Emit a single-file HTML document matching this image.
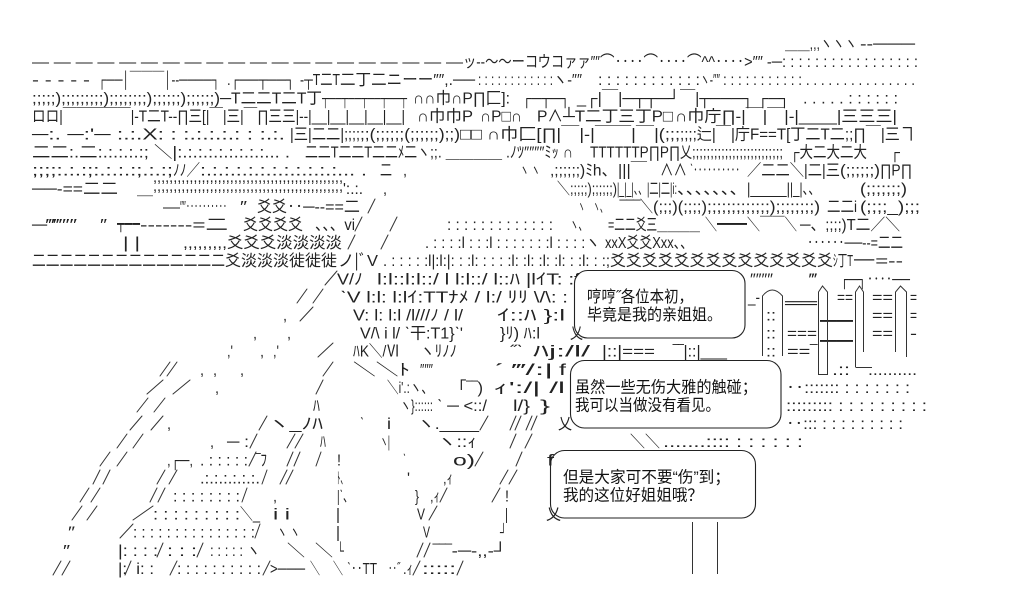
<!DOCTYPE html>
<html><head><meta charset="utf-8"><style>
html,body{margin:0;padding:0;background:#fff;overflow:hidden}
svg{display:block}
text{font-family:"Liberation Sans","Noto Sans CJK JP",sans-serif;font-size:16px;fill:#222;white-space:pre}
.c{font-family:"Liberation Sans","Noto Sans CJK SC",sans-serif;fill:#111}
</style></head><body>
<svg width="1025" height="604" viewBox="0 0 1025 604" xmlns="http://www.w3.org/2000/svg" xml:space="preserve">
<rect width="1025" height="604" fill="#fff"/>
<!-- r0 -->
<text x="785" y="49" textLength="72" lengthAdjust="spacingAndGlyphs">＿＿,,,ヽヽヽ</text>
<text x="860" y="49" textLength="55" lengthAdjust="spacingAndGlyphs">‐‐───</text>
<!-- r1 -->
<text x="32" y="67.1" textLength="431" lengthAdjust="spacingAndGlyphs">— — — — — — — — — — — — — — — — — — — —</text>
<text x="463" y="67.1" textLength="137" lengthAdjust="spacingAndGlyphs">ッ--～～ーコウコァァ″″</text>
<text x="600" y="67.1" textLength="182" lengthAdjust="spacingAndGlyphs">⌒‥‥⌒‥‥⌒^^‥‥&gt;″″ ‐─</text>
<text x="782" y="67.1" textLength="136" lengthAdjust="spacingAndGlyphs">: : : : : : : : : : : : : : : : :</text>
<!-- r2 -->
<text x="32" y="85.2" textLength="58" lengthAdjust="spacingAndGlyphs">- - - - -</text>
<text x="98" y="85.2" textLength="122" lengthAdjust="spacingAndGlyphs">┌──│￣￣￣│-‐────┐</text>
<text x="227" y="85.2" textLength="68" lengthAdjust="spacingAndGlyphs">.┌──┬──┐</text>
<text x="300" y="85.2" textLength="40" lengthAdjust="spacingAndGlyphs">-┬T二T</text>
<text x="340" y="85.2" textLength="135" lengthAdjust="spacingAndGlyphs">二丁二ニーー″″,.──</text>
<text x="478" y="85.2" textLength="75" lengthAdjust="spacingAndGlyphs">: : : : : : : : : : : :</text>
<text x="553" y="85.2" textLength="29" lengthAdjust="spacingAndGlyphs">ヽ‐″″</text>
<text x="598" y="85.2" textLength="102" lengthAdjust="spacingAndGlyphs">: : : : : : : : : : : :</text>
<text x="700" y="85.2" textLength="20" lengthAdjust="spacingAndGlyphs">ヽ‐″″</text>
<text x="723" y="85.2" textLength="192" lengthAdjust="spacingAndGlyphs">: : : : : : : : : : : . . . . . . . . . . . . . . .</text>
<!-- r3 -->
<text x="32" y="103.3" textLength="188" lengthAdjust="spacingAndGlyphs">;;;;;);;;;;;;;;);;;;;;;;);;;;;;);;;;;;)</text>
<text x="220" y="103.3" textLength="102" lengthAdjust="spacingAndGlyphs">─T二二T二T丁</text>
<text x="322" y="103.3" textLength="85" lengthAdjust="spacingAndGlyphs">┬──┬──┬──┬──┬</text>
<text x="413" y="103.3" textLength="97" lengthAdjust="spacingAndGlyphs">∩∩巾∩P∏匚]:</text>
<text x="522" y="103.3" textLength="48" lengthAdjust="spacingAndGlyphs">┌─┬─┐</text>
<text x="577" y="103.3" textLength="103" lengthAdjust="spacingAndGlyphs">_┌|￣|─┬┬─┘</text>
<text x="680" y="103.3" textLength="110" lengthAdjust="spacingAndGlyphs">￣|┬───┐ ┌─┐</text>
<text x="803" y="103.3" textLength="95" lengthAdjust="spacingAndGlyphs">. . . . . : : : : : :</text>
<!-- r4 -->
<text x="32" y="121.4" textLength="373" lengthAdjust="spacingAndGlyphs">ロロ|￣￣￣￣￣|-T二T--∏三[|￣|三|￣∏三三|--|__|__|__|__|__|</text>
<text x="417" y="121.4" textLength="56" lengthAdjust="spacingAndGlyphs">∩巾巾P</text>
<text x="480" y="121.4" textLength="42" lengthAdjust="spacingAndGlyphs">∩P□∩</text>
<text x="537" y="121.4" textLength="26" lengthAdjust="spacingAndGlyphs">P∧</text>
<text x="563" y="121.4" textLength="110" lengthAdjust="spacingAndGlyphs">┴T二丁三丁P□</text>
<text x="675" y="121.4" textLength="222" lengthAdjust="spacingAndGlyphs">∩巾庁∏-|￣|￣|-|____|三三三|</text>
<!-- r5 -->
<text x="32" y="139.5" textLength="253" lengthAdjust="spacingAndGlyphs">─:. ─:'─ :.:.X: : :.:.:.:.: : :.:.</text>
<text x="290" y="139.5" textLength="70" lengthAdjust="spacingAndGlyphs">|三|二二|;;;;</text>
<text x="360" y="139.5" textLength="100" lengthAdjust="spacingAndGlyphs">;;(;;;;;;(;;;;;;);;)</text>
<text x="460" y="139.5" textLength="220" lengthAdjust="spacingAndGlyphs">□□ ∩巾匚[∏|￣|-|￣￣|￣|(;;;</text>
<text x="680" y="139.5" textLength="235" lengthAdjust="spacingAndGlyphs">;;;;辷|￣|庁F==T[丁二T二;;∏￣|三ヿ</text>
<!-- r6 -->
<text x="32" y="157.6" textLength="258" lengthAdjust="spacingAndGlyphs">二二:.二:.:.:.:.:; ＼|:.:.:.:.:.:.:.:.:... .</text>
<text x="305" y="157.6" textLength="125" lengthAdjust="spacingAndGlyphs">二二T二二T二二ﾒ二ヽ</text>
<text x="430" y="157.6" textLength="87" lengthAdjust="spacingAndGlyphs">;;. ＿＿＿＿ .ﾉ</text>
<text x="517" y="157.6" textLength="56" lengthAdjust="spacingAndGlyphs">ﾂ″″″″ﾐｯ ∩</text>
<text x="590" y="157.6" textLength="90" lengthAdjust="spacingAndGlyphs">TTTTTTP∏P∏</text>
<text x="680" y="157.6" textLength="12" lengthAdjust="spacingAndGlyphs">乂</text>
<text x="692" y="157.6" textLength="91" lengthAdjust="spacingAndGlyphs">;;;;;;;;;;;;;;;;;;;;;;;;;</text>
<text x="790" y="157.6" textLength="77" lengthAdjust="spacingAndGlyphs">┌大二大二大</text>
<text x="890" y="157.6" textLength="10" lengthAdjust="spacingAndGlyphs">┌</text>
<!-- r7 -->
<text x="32" y="175.7" textLength="141" lengthAdjust="spacingAndGlyphs">;;;;:.:.:;:.:.:.:;.:.:;</text>
<text x="173" y="175.7" textLength="27" lengthAdjust="spacingAndGlyphs">ﾉﾉ／</text>
<text x="200" y="175.7" textLength="167" lengthAdjust="spacingAndGlyphs">:.:.:.:.:.:.:.:.:.:.:.:... .</text>
<text x="380" y="175.7" textLength="12" lengthAdjust="spacingAndGlyphs">二</text>
<text x="403" y="175.7" textLength="4" lengthAdjust="spacingAndGlyphs">,</text>
<text x="520" y="175.7" textLength="20" lengthAdjust="spacingAndGlyphs">ヽ ヽ</text>
<text x="550" y="175.7" textLength="67" lengthAdjust="spacingAndGlyphs">,;;;;;;)ﾐh、</text>
<text x="618" y="175.7" textLength="29" lengthAdjust="spacingAndGlyphs">|||￣</text>
<text x="660" y="175.7" textLength="27" lengthAdjust="spacingAndGlyphs">∧∧</text>
<text x="690" y="175.7" textLength="50" lengthAdjust="spacingAndGlyphs">ˋ‥‥‥‥‥</text>
<text x="747" y="175.7" textLength="93" lengthAdjust="spacingAndGlyphs">／二二＼|二|三</text>
<text x="840" y="175.7" textLength="40" lengthAdjust="spacingAndGlyphs">(;;;;;;)</text>
<text x="880" y="175.7" textLength="32" lengthAdjust="spacingAndGlyphs">∏P∏</text>
<!-- r8 -->
<text x="32" y="193.8" textLength="86" lengthAdjust="spacingAndGlyphs">──-==二二</text>
<text x="137" y="193.8" textLength="16" lengthAdjust="spacingAndGlyphs">＿</text>
<text x="153" y="182" textLength="190" lengthAdjust="spacingAndGlyphs">,,,,,,,,,,,,,,,,,,,,,,,,,,,,,,,,,,,,,,,,,,,,,,,</text>
<text x="153" y="191" textLength="190" lengthAdjust="spacingAndGlyphs">,,,,,,,,,,,,,,,,,,,,,,,,,,,,,,,,,,,,,,,,,,,,,,,</text>
<text x="343" y="193.8" textLength="20" lengthAdjust="spacingAndGlyphs">':.:.</text>
<text x="383" y="193.8" textLength="4" lengthAdjust="spacingAndGlyphs">,</text>
<text x="557" y="193.8" textLength="13" lengthAdjust="spacingAndGlyphs">＼</text>
<text x="570" y="193.8" textLength="47" lengthAdjust="spacingAndGlyphs">;;;;;);;;;;;)</text>
<text x="617" y="193.8" textLength="30" lengthAdjust="spacingAndGlyphs">|_|_|、、</text>
<text x="647" y="193.8" textLength="30" lengthAdjust="spacingAndGlyphs">|二|二|i:</text>
<text x="677" y="193.8" textLength="70" lengthAdjust="spacingAndGlyphs">、、、、、、、</text>
<text x="747" y="193.8" textLength="43" lengthAdjust="spacingAndGlyphs">|_____|</text>
<text x="790" y="193.8" textLength="30" lengthAdjust="spacingAndGlyphs">|_|、、</text>
<text x="860" y="193.8" textLength="47" lengthAdjust="spacingAndGlyphs">(;;;;;;;)</text>
<!-- r9 -->
<text x="163" y="211.9" textLength="17" lengthAdjust="spacingAndGlyphs">—</text>
<text x="180" y="211.9" textLength="47" lengthAdjust="spacingAndGlyphs">″″‥‥‥‥‥</text>
<text x="240" y="211.9" textLength="7" lengthAdjust="spacingAndGlyphs">″</text>
<text x="257" y="211.9" textLength="30" lengthAdjust="spacingAndGlyphs">爻爻</text>
<text x="287" y="211.9" textLength="73" lengthAdjust="spacingAndGlyphs">‥─--==二</text>
<text x="578" y="211.9" textLength="7" lengthAdjust="spacingAndGlyphs">ヽ</text>
<text x="593" y="211.9" textLength="14" lengthAdjust="spacingAndGlyphs">ヽ、</text>
<text x="620" y="211.9" textLength="20" lengthAdjust="spacingAndGlyphs">‾‾‾</text>
<text x="640" y="211.9" textLength="13" lengthAdjust="spacingAndGlyphs">＼</text>
<text x="653" y="211.9" textLength="54" lengthAdjust="spacingAndGlyphs">(;;;)(;;;;)</text>
<text x="707" y="211.9" textLength="113" lengthAdjust="spacingAndGlyphs">;;;;;;;;;;;;;);;;;;;;;)</text>
<text x="827" y="211.9" textLength="30" lengthAdjust="spacingAndGlyphs">二二i</text>
<text x="860" y="211.9" textLength="60" lengthAdjust="spacingAndGlyphs">(;;;;_);;;</text>
<!-- r10 -->
<text x="32" y="230" textLength="45" lengthAdjust="spacingAndGlyphs">─‴‴″″</text>
<text x="100" y="230" textLength="7" lengthAdjust="spacingAndGlyphs">″</text>
<text x="117" y="230" textLength="23" lengthAdjust="spacingAndGlyphs">┳━━</text>
<text x="140" y="230" textLength="88" lengthAdjust="spacingAndGlyphs">-------=二</text>
<text x="243" y="230" textLength="60" lengthAdjust="spacingAndGlyphs">爻爻爻爻</text>
<text x="315" y="230" textLength="40" lengthAdjust="spacingAndGlyphs">、、、vi</text>
<text x="447" y="230" textLength="106" lengthAdjust="spacingAndGlyphs">: : : : : : : : : : : : :</text>
<text x="570" y="230" textLength="17" lengthAdjust="spacingAndGlyphs">ヽ、</text>
<text x="608" y="230" textLength="92" lengthAdjust="spacingAndGlyphs">=二二爻三＿＿＿＿</text>
<text x="705" y="230" textLength="12" lengthAdjust="spacingAndGlyphs">＼</text>
<text x="717" y="230" textLength="30" lengthAdjust="spacingAndGlyphs">━━━</text>
<text x="747" y="230" textLength="13" lengthAdjust="spacingAndGlyphs">＼</text>
<text x="760" y="230" textLength="37" lengthAdjust="spacingAndGlyphs">￣￣＼</text>
<text x="800" y="230" textLength="100" lengthAdjust="spacingAndGlyphs">─、;;;;)T二／＼</text>
<!-- r11 -->
<text x="123" y="248.1" textLength="17" lengthAdjust="spacingAndGlyphs">| |</text>
<text x="183" y="248.1" textLength="44" lengthAdjust="spacingAndGlyphs">,,,,,,,,,</text>
<text x="227" y="248.1" textLength="115" lengthAdjust="spacingAndGlyphs">爻爻爻淡淡淡淡</text>
<text x="425" y="248.1" textLength="175" lengthAdjust="spacingAndGlyphs">. : : : :l : : :l : : : : : : :l : : : :ヽ</text>
<text x="605" y="248.1" textLength="88" lengthAdjust="spacingAndGlyphs">xxX爻爻Xxx、、</text>
<text x="807" y="248.1" textLength="96" lengthAdjust="spacingAndGlyphs">‥‥‥──--=二二</text>
<!-- r12 -->
<text x="32" y="266.2" textLength="193" lengthAdjust="spacingAndGlyphs">二二二二二二二二二二二二二二</text>
<text x="225" y="266.2" textLength="112" lengthAdjust="spacingAndGlyphs">爻淡淡淡徙徙徙</text>
<text x="338" y="266.2" textLength="40" lengthAdjust="spacingAndGlyphs">ノ|ﾞV</text>
<text x="383" y="266.2" textLength="227" lengthAdjust="spacingAndGlyphs">. : : : : :l|:l:|: : :l: : : : :l: :l: :l: :l: : :l: : :;</text>
<text x="610" y="266.2" textLength="223" lengthAdjust="spacingAndGlyphs">爻爻爻爻爻爻爻爻爻爻爻爻爻爻</text>
<text x="833" y="266.2" textLength="20" lengthAdjust="spacingAndGlyphs">ｼ丁T</text>
<text x="853" y="266.2" textLength="50" lengthAdjust="spacingAndGlyphs">一=--</text>
<!-- r13 -->
<text x="337" y="284.3" textLength="26" lengthAdjust="spacingAndGlyphs">V/ﾉ</text>
<text x="377" y="284.3" textLength="56" lengthAdjust="spacingAndGlyphs">l:l::l:l::</text>
<text x="433" y="284.3" textLength="147" lengthAdjust="spacingAndGlyphs">/ l l:l::/ l::ﾊ |lｲT: :f</text>
<text x="738" y="284.3" textLength="8" lengthAdjust="spacingAndGlyphs">ヽ</text>
<text x="750" y="284.3" textLength="23" lengthAdjust="spacingAndGlyphs">″″″″</text>
<text x="810" y="284.3" textLength="7" lengthAdjust="spacingAndGlyphs">‴</text>
<text x="840" y="284.3" textLength="70" lengthAdjust="spacingAndGlyphs">┌─┐‥‥──</text>
<!-- r14 -->
<text x="340" y="302.4" textLength="228" lengthAdjust="spacingAndGlyphs">ˋV l:l: l:lｲ:TTﾅﾒ / l:/ ﾘﾘ \/\: :</text>
<text x="748" y="302.4" textLength="12" lengthAdjust="spacingAndGlyphs">_-</text>
<text x="785" y="308" textLength="32" lengthAdjust="spacingAndGlyphs">════</text>
<text x="837" y="302.4" textLength="16" lengthAdjust="spacingAndGlyphs">==</text>
<text x="872" y="302.4" textLength="21" lengthAdjust="spacingAndGlyphs">==</text>
<text x="910" y="302.4" textLength="7" lengthAdjust="spacingAndGlyphs">=</text>
<!-- r15 -->
<text x="283" y="320.5" textLength="4" lengthAdjust="spacingAndGlyphs">,</text>
<text x="353" y="320.5" textLength="110" lengthAdjust="spacingAndGlyphs">V: l: l:l /l///ﾉ / l/</text>
<text x="497" y="320.5" textLength="68" lengthAdjust="spacingAndGlyphs">ｲ::ﾊ }:l</text>
<text x="766" y="320.5" textLength="10" lengthAdjust="spacingAndGlyphs">::</text>
<text x="820" y="327" textLength="33" lengthAdjust="spacingAndGlyphs">━━</text>
<text x="872" y="320.5" textLength="21" lengthAdjust="spacingAndGlyphs">==</text>
<text x="910" y="320.5" textLength="7" lengthAdjust="spacingAndGlyphs">=</text>
<!-- r16 -->
<text x="253" y="338.6" textLength="4" lengthAdjust="spacingAndGlyphs">,</text>
<text x="287" y="338.6" textLength="4" lengthAdjust="spacingAndGlyphs">,</text>
<text x="360" y="338.6" textLength="103" lengthAdjust="spacingAndGlyphs">V/\ i l/ ˋ干:T1}ˋ'</text>
<text x="500" y="338.6" textLength="40" lengthAdjust="spacingAndGlyphs">}ﾘ) ﾊ:l</text>
<text x="766" y="338.6" textLength="10" lengthAdjust="spacingAndGlyphs">::</text>
<text x="787" y="338.6" textLength="30" lengthAdjust="spacingAndGlyphs">===</text>
<text x="820" y="347" textLength="33" lengthAdjust="spacingAndGlyphs">━━</text>
<text x="872" y="338.6" textLength="21" lengthAdjust="spacingAndGlyphs">==</text>
<text x="910" y="338.6" textLength="7" lengthAdjust="spacingAndGlyphs">-</text>
<!-- r17 -->
<text x="227" y="356.7" textLength="6" lengthAdjust="spacingAndGlyphs">,'</text>
<text x="260" y="356.7" textLength="4" lengthAdjust="spacingAndGlyphs">,</text>
<text x="273" y="356.7" textLength="6" lengthAdjust="spacingAndGlyphs">,'</text>
<text x="353" y="356.7" textLength="47" lengthAdjust="spacingAndGlyphs">ﾊK＼/Ⅵ</text>
<text x="420" y="356.7" textLength="37" lengthAdjust="spacingAndGlyphs">ヽﾘﾉﾉ</text>
<text x="510" y="356.7" textLength="13" lengthAdjust="spacingAndGlyphs">˝ˋ</text>
<text x="533" y="356.7" textLength="57" lengthAdjust="spacingAndGlyphs">ﾊj:/l/</text>
<text x="602" y="356.7" textLength="53" lengthAdjust="spacingAndGlyphs">|::|===</text>
<text x="673" y="356.7" textLength="54" lengthAdjust="spacingAndGlyphs">‾‾|::|___</text>
<text x="766" y="356.7" textLength="10" lengthAdjust="spacingAndGlyphs">::</text>
<text x="787" y="356.7" textLength="30" lengthAdjust="spacingAndGlyphs">==‾</text>
<!-- r18 -->
<text x="200" y="374.8" textLength="4" lengthAdjust="spacingAndGlyphs">,</text>
<text x="213" y="374.8" textLength="4" lengthAdjust="spacingAndGlyphs">,</text>
<text x="240" y="374.8" textLength="4" lengthAdjust="spacingAndGlyphs">,</text>
<text x="353" y="374.8" textLength="57" lengthAdjust="spacingAndGlyphs">＼＼ﾄ</text>
<text x="420" y="374.8" textLength="13" lengthAdjust="spacingAndGlyphs">″″″</text>
<text x="493" y="374.8" textLength="60" lengthAdjust="spacingAndGlyphs">ˊ ‴/:|</text>
<text x="559" y="374.8" textLength="7" lengthAdjust="spacingAndGlyphs">f</text>
<text x="832" y="374.8" textLength="18" lengthAdjust="spacingAndGlyphs">.::</text>
<text x="868" y="374.8" textLength="49" lengthAdjust="spacingAndGlyphs">..........</text>
<!-- r19 -->
<text x="215" y="392.9" textLength="4" lengthAdjust="spacingAndGlyphs">,</text>
<text x="387" y="392.9" textLength="46" lengthAdjust="spacingAndGlyphs">＼i'.:ヽ、</text>
<text x="450" y="392.9" textLength="33" lengthAdjust="spacingAndGlyphs">「‾‾)</text>
<text x="493" y="392.9" textLength="72" lengthAdjust="spacingAndGlyphs">ｨ':/| /l</text>
<text x="786" y="392.9" textLength="124" lengthAdjust="spacingAndGlyphs">‥::::::: : : : : : : :</text>
<!-- r20 -->
<text x="313" y="411" textLength="7" lengthAdjust="spacingAndGlyphs">ﾊ</text>
<text x="400" y="411" textLength="33" lengthAdjust="spacingAndGlyphs">ヽ}::::::</text>
<text x="437" y="411" textLength="50" lengthAdjust="spacingAndGlyphs">ˋ ─ &lt;::/</text>
<text x="513" y="411" textLength="17" lengthAdjust="spacingAndGlyphs">l/}</text>
<text x="540" y="411" textLength="10" lengthAdjust="spacingAndGlyphs">}</text>
<text x="786" y="411" textLength="141" lengthAdjust="spacingAndGlyphs">::::::::: : : : : : : : : :</text>
<!-- r21 -->
<text x="167" y="429.1" textLength="4" lengthAdjust="spacingAndGlyphs">,</text>
<text x="268" y="429.1" textLength="55" lengthAdjust="spacingAndGlyphs">ヽ_ﾉﾊ</text>
<text x="360" y="429.1" textLength="4" lengthAdjust="spacingAndGlyphs">ˋ</text>
<text x="387" y="429.1" textLength="4" lengthAdjust="spacingAndGlyphs">i</text>
<text x="417" y="429.1" textLength="62" lengthAdjust="spacingAndGlyphs">ヽ.____</text>
<text x="786" y="429.1" textLength="117" lengthAdjust="spacingAndGlyphs">‥::: : : : : : : : : :</text>
<!-- r22 -->
<text x="210" y="447.2" textLength="4" lengthAdjust="spacingAndGlyphs">,</text>
<text x="227" y="447.2" textLength="22" lengthAdjust="spacingAndGlyphs">─ :</text>
<text x="320" y="447.2" textLength="6" lengthAdjust="spacingAndGlyphs">ﾊ</text>
<text x="380" y="447.2" textLength="10" lengthAdjust="spacingAndGlyphs">ヽ|</text>
<text x="437" y="447.2" textLength="40" lengthAdjust="spacingAndGlyphs">ヽ::ｨ</text>
<text x="630" y="447.2" textLength="30" lengthAdjust="spacingAndGlyphs">＼＼</text>
<text x="663" y="447.2" textLength="140" lengthAdjust="spacingAndGlyphs">.......:::: : : : : : :</text>
<!-- r23 -->
<text x="167" y="465.3" textLength="26" lengthAdjust="spacingAndGlyphs">,┌─,</text>
<text x="200" y="465.3" textLength="48" lengthAdjust="spacingAndGlyphs">. : : : : :</text>
<text x="256" y="465.3" textLength="11" lengthAdjust="spacingAndGlyphs">‾ﾌ</text>
<text x="337" y="465.3" textLength="4" lengthAdjust="spacingAndGlyphs">!</text>
<text x="403" y="465.3" textLength="3" lengthAdjust="spacingAndGlyphs">ˋ</text>
<text x="453" y="465.3" textLength="22" lengthAdjust="spacingAndGlyphs">o)</text>
<!-- r24 -->
<text x="200" y="483.4" textLength="60" lengthAdjust="spacingAndGlyphs">.:.:.:.:.:.:.</text>
<text x="337" y="483.4" textLength="10" lengthAdjust="spacingAndGlyphs">ﾄ、</text>
<text x="407" y="483.4" textLength="3" lengthAdjust="spacingAndGlyphs">'</text>
<text x="443" y="483.4" textLength="10" lengthAdjust="spacingAndGlyphs">,ｨ</text>
<!-- r25 -->
<text x="173" y="501.5" textLength="67" lengthAdjust="spacingAndGlyphs">: : : : : : : :</text>
<text x="273" y="501.5" textLength="4" lengthAdjust="spacingAndGlyphs">,</text>
<text x="337" y="501.5" textLength="16" lengthAdjust="spacingAndGlyphs">|ˋ、</text>
<text x="415" y="501.5" textLength="4" lengthAdjust="spacingAndGlyphs">}</text>
<text x="430" y="501.5" textLength="10" lengthAdjust="spacingAndGlyphs">,ｨ</text>
<text x="505" y="501.5" textLength="4" lengthAdjust="spacingAndGlyphs">!</text>
<!-- r26 -->
<text x="153" y="519.6" textLength="87" lengthAdjust="spacingAndGlyphs">: : : : : : : : :</text>
<text x="240" y="519.6" textLength="20" lengthAdjust="spacingAndGlyphs">＼_</text>
<text x="273" y="519.6" textLength="17" lengthAdjust="spacingAndGlyphs">i i</text>
<text x="336" y="519.6" textLength="4" lengthAdjust="spacingAndGlyphs">|</text>
<text x="417" y="519.6" textLength="8" lengthAdjust="spacingAndGlyphs">V</text>
<text x="505" y="519.6" textLength="3" lengthAdjust="spacingAndGlyphs">|</text>
<!-- r27 -->
<text x="68" y="537.7" textLength="7" lengthAdjust="spacingAndGlyphs">″</text>
<text x="133" y="537.7" textLength="122" lengthAdjust="spacingAndGlyphs">: : : : : : : : : : : : : : :</text>
<text x="277" y="537.7" textLength="23" lengthAdjust="spacingAndGlyphs">ヽ ヽ</text>
<text x="336" y="537.7" textLength="4" lengthAdjust="spacingAndGlyphs">|</text>
<text x="423" y="537.7" textLength="7" lengthAdjust="spacingAndGlyphs">V</text>
<text x="500" y="537.7" textLength="7" lengthAdjust="spacingAndGlyphs">┘</text>
<!-- r28 -->
<text x="63" y="555.8" textLength="7" lengthAdjust="spacingAndGlyphs">″</text>
<text x="118" y="555.8" textLength="40" lengthAdjust="spacingAndGlyphs">|: : : :</text>
<text x="167" y="555.8" textLength="30" lengthAdjust="spacingAndGlyphs">: : :</text>
<text x="210" y="555.8" textLength="50" lengthAdjust="spacingAndGlyphs">: : : : : ヽ</text>
<text x="287" y="555.8" textLength="46" lengthAdjust="spacingAndGlyphs">＼  ＼</text>
<text x="337" y="555.8" textLength="7" lengthAdjust="spacingAndGlyphs">└</text>
<text x="433" y="555.8" textLength="74" lengthAdjust="spacingAndGlyphs">‾‾‾-─-,,-┘</text>
<!-- r29 -->
<text x="118" y="573.9" textLength="36" lengthAdjust="spacingAndGlyphs">|:  i: :</text>
<text x="177" y="573.9" textLength="84" lengthAdjust="spacingAndGlyphs">: : : : : : : : : :</text>
<text x="270" y="573.9" textLength="35" lengthAdjust="spacingAndGlyphs">&gt;───</text>
<text x="310" y="573.9" textLength="10" lengthAdjust="spacingAndGlyphs">＼</text>
<text x="333" y="573.9" textLength="10" lengthAdjust="spacingAndGlyphs">＼</text>
<text x="347" y="573.9" textLength="30" lengthAdjust="spacingAndGlyphs">ˋ‥TT</text>
<text x="388" y="573.9" textLength="12" lengthAdjust="spacingAndGlyphs">‥˝</text>
<text x="403" y="573.9" textLength="10" lengthAdjust="spacingAndGlyphs">.ｨ</text>
<text x="422" y="573.9" textLength="34" lengthAdjust="spacingAndGlyphs">:::::</text>

<!-- thin slashes as lines -->
<g stroke="#333" stroke-width="1" fill="none" stroke-linecap="round">
<!-- r9..r11 -->
<line x1="368" y1="213" x2="375" y2="199"/>
<line x1="355" y1="231" x2="362" y2="217"/>
<line x1="390" y1="231" x2="397" y2="217"/>
<line x1="348" y1="249" x2="355" y2="235"/>
<line x1="381" y1="249" x2="388" y2="235"/>
<!-- r13 -->
<line x1="325" y1="285" x2="337" y2="271"/>
<!-- r14 -->
<line x1="297" y1="303" x2="307" y2="289"/>
<line x1="313" y1="303" x2="323" y2="289"/>
<!-- r15 -->
<line x1="300" y1="321" x2="313" y2="307"/>
<!-- r17 -->
<line x1="318" y1="357" x2="333" y2="343"/>
<!-- r18 -->
<line x1="160" y1="376" x2="170" y2="362"/>
<line x1="167" y1="376" x2="177" y2="362"/>
<line x1="323" y1="376" x2="333" y2="362"/>
<!-- r19 -->
<line x1="147" y1="394" x2="163" y2="380"/>
<line x1="173" y1="394" x2="190" y2="380"/>
<line x1="316" y1="394" x2="323" y2="380"/>
<!-- r20 -->
<line x1="137" y1="412" x2="148" y2="398"/>
<line x1="154" y1="412" x2="165" y2="398"/>
<!-- r21 -->
<line x1="130" y1="430" x2="142" y2="416"/>
<line x1="151" y1="430" x2="163" y2="416"/>
<line x1="259" y1="430" x2="267" y2="416"/>
<line x1="480" y1="430" x2="488" y2="416"/>
<line x1="510" y1="430" x2="516" y2="416"/>
<line x1="515" y1="430" x2="521" y2="416"/>
<line x1="526" y1="430" x2="532" y2="416"/>
<line x1="531" y1="430" x2="537" y2="416"/>
<!-- r22 -->
<line x1="117" y1="448" x2="127" y2="434"/>
<line x1="133" y1="448" x2="143" y2="434"/>
<line x1="250" y1="448" x2="257" y2="434"/>
<line x1="287" y1="448" x2="295" y2="434"/>
<line x1="295" y1="448" x2="303" y2="434"/>
<line x1="510" y1="448" x2="516" y2="434"/>
<line x1="525" y1="448" x2="532" y2="434"/>
<!-- r23 -->
<line x1="100" y1="466" x2="110" y2="452"/>
<line x1="117" y1="466" x2="127" y2="452"/>
<line x1="249" y1="466" x2="256" y2="452"/>
<line x1="287" y1="466" x2="293" y2="452"/>
<line x1="294" y1="466" x2="300" y2="452"/>
<line x1="316" y1="466" x2="321" y2="452"/>
<line x1="475" y1="466" x2="483" y2="452"/>
<line x1="516" y1="466" x2="522" y2="452"/>
<!-- r24 -->
<line x1="93" y1="484" x2="100" y2="470"/>
<line x1="103" y1="484" x2="110" y2="470"/>
<line x1="157" y1="484" x2="165" y2="470"/>
<line x1="169" y1="484" x2="177" y2="470"/>
<line x1="262" y1="484" x2="267" y2="470"/>
<line x1="280" y1="484" x2="287" y2="470"/>
<line x1="286" y1="484" x2="293" y2="470"/>
<line x1="500" y1="484" x2="508" y2="470"/>
<line x1="509" y1="484" x2="517" y2="470"/>
<!-- r25 -->
<line x1="80" y1="502" x2="89" y2="488"/>
<line x1="91" y1="502" x2="100" y2="488"/>
<line x1="150" y1="502" x2="157" y2="488"/>
<line x1="158" y1="502" x2="165" y2="488"/>
<line x1="242" y1="502" x2="247" y2="488"/>
<line x1="440" y1="502" x2="447" y2="488"/>
<line x1="492" y1="502" x2="500" y2="488"/>
<!-- r26 -->
<line x1="72" y1="520" x2="82" y2="506"/>
<line x1="87" y1="520" x2="97" y2="506"/>
<line x1="133" y1="520" x2="153" y2="506"/>
<line x1="429" y1="520" x2="437" y2="506"/>
<!-- r27 -->
<line x1="120" y1="538" x2="133" y2="524"/>
<line x1="255" y1="538" x2="260" y2="524"/>
<!-- r28 -->
<line x1="157" y1="557" x2="163" y2="543"/>
<line x1="197" y1="557" x2="203" y2="543"/>
<line x1="417" y1="557" x2="423" y2="543"/>
<line x1="424" y1="557" x2="430" y2="543"/>
<!-- r29 -->
<line x1="53" y1="575" x2="61" y2="561"/>
<line x1="62" y1="575" x2="70" y2="561"/>
<line x1="125" y1="575" x2="131" y2="561"/>
<line x1="170" y1="575" x2="177" y2="561"/>
<line x1="263" y1="575" x2="270" y2="561"/>
<line x1="413" y1="575" x2="420" y2="561"/>
<line x1="457" y1="575" x2="463" y2="561"/>
</g>

<!-- right pillars -->
<g stroke="#333" stroke-width="1" fill="none">
<path d="M762.5 356 V296 Q772 284 782.5 296 V356"/>
<path d="M818.5 375 V292 L822.5 286 L827.5 292 V375"/>
<path d="M855.5 367 V292 L859.5 286 L863.5 292 V352"/>
<path d="M855.5 367.5 H872"/>
<path d="M895.5 352 V292 L900.5 286 L906.5 292 V357"/>
<path d="M818.5 374.5 H827.5"/>
</g>

<!-- bubbles -->
<g fill="#fff" stroke="#222" stroke-width="1.1">
<rect x="574.5" y="270.5" width="170.5" height="67.5" rx="13"/>
<rect x="570.5" y="360.5" width="210.5" height="67.5" rx="14"/>
<rect x="550.5" y="450.5" width="205" height="67.5" rx="14"/>
</g>
<text x="570" y="338.6" textLength="13" lengthAdjust="spacingAndGlyphs">乂</text>
<text x="558" y="429.1" textLength="14" lengthAdjust="spacingAndGlyphs">乂</text>
<text x="546" y="519.6" textLength="15" lengthAdjust="spacingAndGlyphs">乂</text>
<text x="547" y="465.3" textLength="7" lengthAdjust="spacingAndGlyphs">f</text>
<text class="c" x="587" y="302" textLength="106" lengthAdjust="spacingAndGlyphs">哼哼˝各位本初，</text>
<text class="c" x="587" y="320" textLength="135" lengthAdjust="spacingAndGlyphs">毕竟是我的亲姐姐。</text>
<text class="c" x="575" y="392.5" textLength="182" lengthAdjust="spacingAndGlyphs">虽然一些无伤大雅的触碰；</text>
<text class="c" x="575" y="410.5" textLength="145" lengthAdjust="spacingAndGlyphs">我可以当做没有看见。</text>
<text class="c" x="563" y="482.5" textLength="167" lengthAdjust="spacingAndGlyphs">但是大家可不要“伤”到；</text>
<text class="c" x="563" y="500.5" textLength="140" lengthAdjust="spacingAndGlyphs">我的这位好姐姐哦？</text>

<!-- stems under bubble 3 -->
<g stroke="#333" stroke-width="1">
<line x1="692.5" y1="522" x2="692.5" y2="574"/>
<line x1="717.5" y1="522" x2="717.5" y2="574"/>
</g>
</svg>
</body></html>
